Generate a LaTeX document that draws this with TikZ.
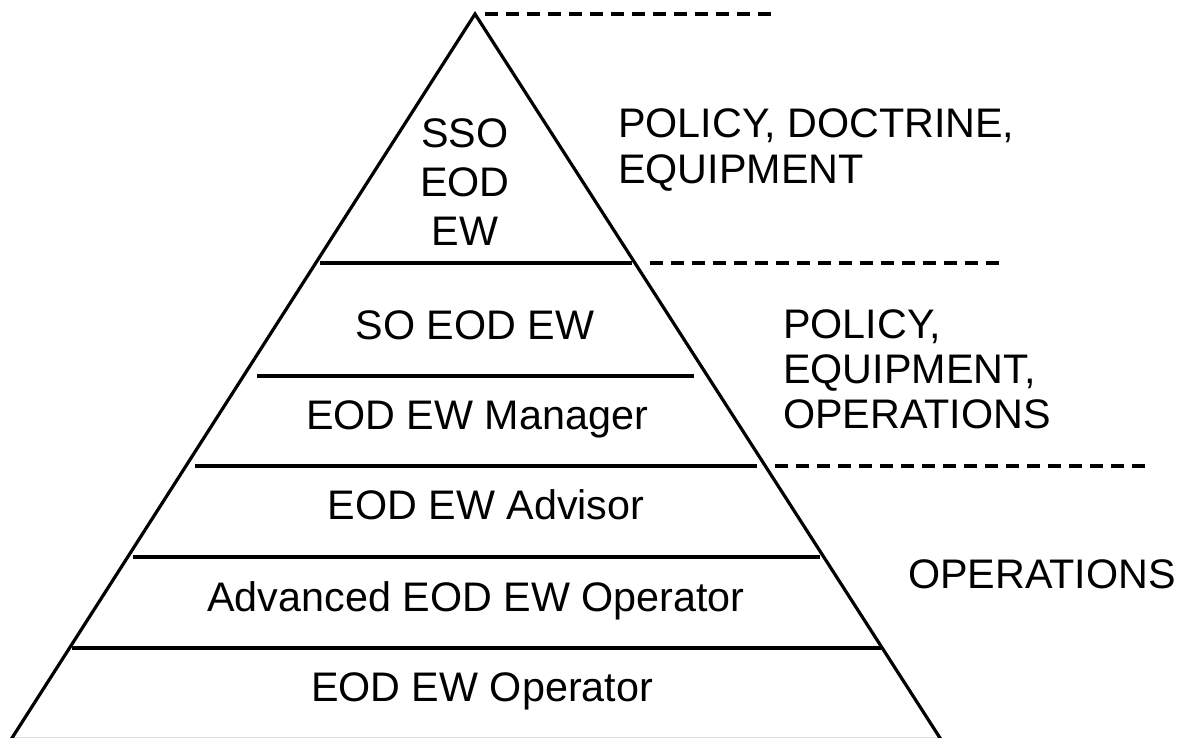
\documentclass[tikz,border=0pt]{standalone}
\usepackage{fontspec}
\setmainfont{Liberation Sans}
\begin{document}
\begin{tikzpicture}[x=1pt,y=-1pt,
  edge/.style={line width=3.2pt, line join=miter},
  tier/.style={line width=3.4pt},
  guide/.style={line width=3.6pt, dash pattern=on 13pt off 8pt},
  lbl/.style={inner sep=0pt, anchor=base, font=\fontsize{41.3}{46}\selectfont},
  side/.style={inner sep=0pt, anchor=base west, font=\fontsize{41.3}{46}\selectfont}]
\useasboundingbox (0,0) rectangle (1185,737);
% pyramid outline
\coordinate (apex) at (475,14);
\coordinate (bl) at (11,739.5);
\coordinate (br) at (941,739.5);
\draw[edge] (bl) -- (apex) -- (br) -- cycle;
% tier lines
\coordinate (t1a) at (320,263); \coordinate (t1b) at (632,263);
\coordinate (t2a) at (257,376); \coordinate (t2b) at (694,376);
\coordinate (t3a) at (195,466); \coordinate (t3b) at (757,466);
\coordinate (t4a) at (133,557); \coordinate (t4b) at (820,557);
\coordinate (t5a) at (72,648);  \coordinate (t5b) at (881,648);
\draw[tier] (t1a) -- (t1b);
\draw[tier] (t2a) -- (t2b);
\draw[tier] (t3a) -- (t3b);
\draw[tier] (t4a) -- (t4b);
\draw[tier] (t5a) -- (t5b);
% dashed guides
\coordinate (g0a) at (485,14);  \coordinate (g0b) at (771,14);
\coordinate (g1a) at (650,263); \coordinate (g1b) at (999,263);
\coordinate (g2a) at (775,466); \coordinate (g2b) at (1145,466);
\draw[guide] (g0a) -- (g0b);
\draw[guide] (g1a) -- (g1b);
\draw[guide] (g2a) -- (g2b);
% tier labels
\node[lbl] (sso) at (465,147) {SSO};
\node[lbl] (eod) at (465,196) {EOD};
\node[lbl] (ew) at (465,245) {EW};
\node[lbl] (so) at (475,339) {SO EOD EW};
\node[lbl] (mgr) at (477,429) {EOD EW Manager};
\node[lbl] (adv) at (486,519) {EOD EW Advisor};
\node[lbl] (aop) at (476,611) {Advanced EOD EW Operator};
\node[lbl] (op) at (482,701) {EOD EW Operator};
% side labels
\node[side] (r1a) at (618,137) {POLICY, DOCTRINE,};
\node[side] (r1b) at (618,183) {EQUIPMENT};
\node[side] (r2a) at (783,338) {POLICY,};
\node[side] (r2b) at (783,383) {EQUIPMENT,};
\node[side] (r2c) at (783,428) {OPERATIONS};
\node[side] (r3) at (908,588) {OPERATIONS};
\end{tikzpicture}
\end{document}
